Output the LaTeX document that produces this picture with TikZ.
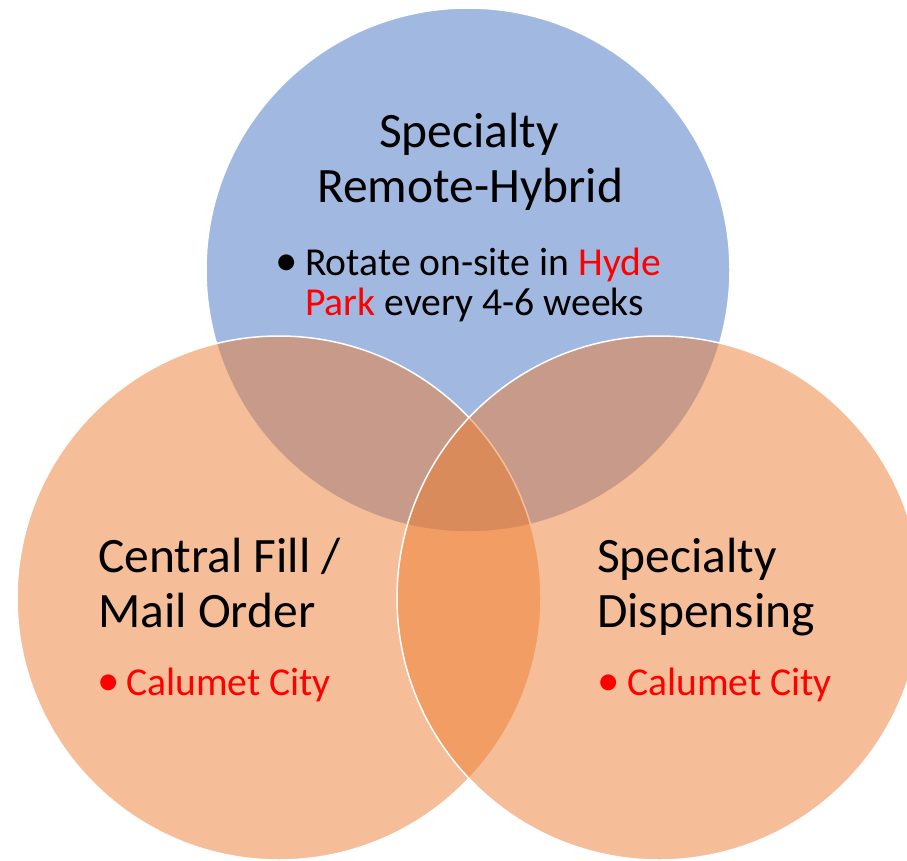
\documentclass[tikz,border=0pt]{standalone}
\usepackage{fontspec}
\setmainfont{Carlito}
\definecolor{accblue}{HTML}{4472C4}
\definecolor{accorange}{HTML}{ED7D31}
\definecolor{txtred}{HTML}{FF0000}
\begin{document}
\begin{tikzpicture}[x=1pt,y=-1pt,
  venn/.style={circle, minimum size=524pt, inner sep=0pt, fill opacity=0.5, draw=white, draw opacity=1, line width=1.5pt},
  title/.style={inner sep=0pt, font=\fontsize{49.5}{55}\selectfont, text=black},
  item/.style={inner sep=0pt, font=\fontsize{39.6}{40}\selectfont, text=black, anchor=base west},
  dot/.style={inner sep=0pt, font=\fontsize{45}{45}\selectfont, text=black, anchor=base west}
]
\useasboundingbox (0,0) rectangle (907,861);
\clip (0,0) rectangle (907,861);
\node[venn, fill=accblue] (ctop) at (468,270) {};
\node[venn, fill=accorange] (cleft) at (279,598) {};
\node[venn, fill=accorange] (cright) at (659,598) {};

% top circle text
\node[title, anchor=base] (t1) at (469,148) {Specialty};
\node[title, anchor=base] (t2) at (470,203) {Remote-Hybrid};
\node[dot] (tb) at (275.5,275) {\textbullet};
\node[item] (tl1) at (305,275) {Rotate on-site in \textcolor{txtred}{Hyde}};
\node[item] (tl2) at (305,315) {\textcolor{txtred}{Park} every 4-6 weeks};

% left circle text
\node[title, anchor=base west] (l1) at (98,572) {Central Fill /};
\node[title, anchor=base west] (l2) at (98,627) {Mail Order};
\node[dot, text=txtred] (lb) at (97.5,695) {\textbullet};
\node[item, text=txtred] (ll) at (126,695) {Calumet City};

% right circle text
\node[title, anchor=base west] (r1) at (597,572) {Specialty};
\node[title, anchor=base west] (r2) at (597,627) {Dispensing};
\node[dot, text=txtred] (rb) at (597.5,695) {\textbullet};
\node[item, text=txtred] (rl) at (627,695) {Calumet City};
\end{tikzpicture}
\end{document}
